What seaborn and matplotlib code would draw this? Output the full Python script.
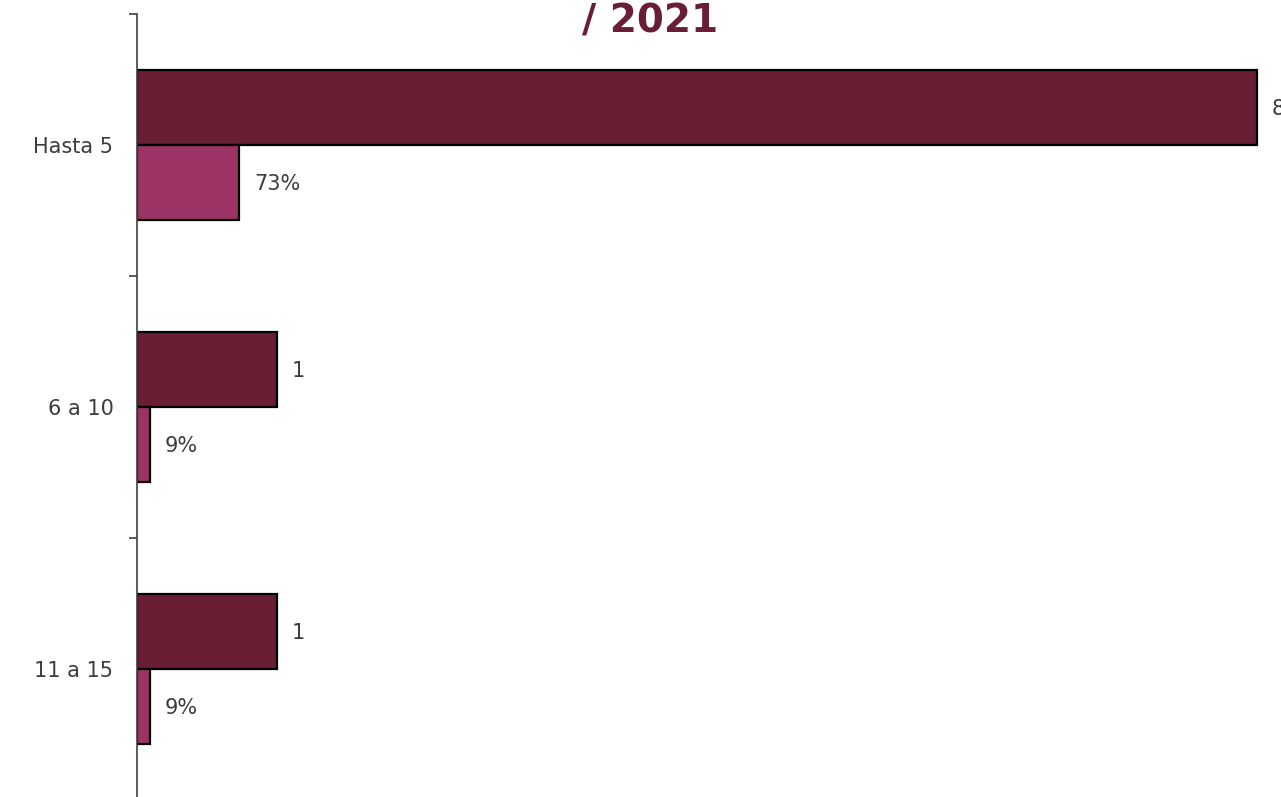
import matplotlib
matplotlib.use("Agg")
import matplotlib.pyplot as plt
from matplotlib.ticker import FixedLocator
import seaborn as sns
import pandas as pd

# Data
rangos = ["Hasta 5", "6 a 10", "11 a 15"]
cantidad = [8, 1, 1]
porcentaje = [0.73, 0.09, 0.09]
etiquetas_cantidad = ["8", "1", "1"]
etiquetas_porcentaje = ["73%", "9%", "9%"]
series = ["Cantidad", "Porcentaje"]
colores = ["#6A1E33", "#9B3465"]
titulo = "/ 2021"

df = pd.DataFrame({
    "rango": rangos * 2,
    "serie": [series[0]] * len(rangos) + [series[1]] * len(rangos),
    "valor": cantidad + porcentaje,
})

sns.set_theme(style="white")
plt.rcParams["font.family"] = ["DejaVu Sans"]

W, H = 1281, 797
fig = plt.figure(figsize=(W / 100, H / 100), dpi=100)
# axes: left spine at x=137 px, category span from y=14 px to y=800 px
ax = fig.add_axes([137 / W, -3 / H, (W - 137) / W, (800 - 14) / H])

sns.barplot(data=df, y="rango", x="valor", hue="serie", order=rangos,
            hue_order=series, palette=colores, orient="h", width=0.573,
            edgecolor="black", linewidth=1.6, dodge=True, ax=ax,
            legend=False, saturation=1)

ax.set_xlim(0, (W - 137) / 140)
ax.set_ylim(2.5, -0.5)

# value labels just right of each bar
px = (ax.get_xlim()[1]) / (W - 137)
off = 15 * px
for cont, labels in zip(ax.containers, [etiquetas_cantidad, etiquetas_porcentaje]):
    for bar, lab in zip(cont, labels):
        ax.text(bar.get_width() + off, bar.get_y() + bar.get_height() / 2 + 0.005, lab,
                va="center", ha="left", fontsize=15, color="#3C3C3C",
                clip_on=False)

# axes styling
for s in ["top", "right", "bottom"]:
    ax.spines[s].set_visible(False)
ax.spines["left"].set_color("#404040")
ax.spines["left"].set_linewidth(1.2)
ax.set_xticks([])
ax.set_xlabel("")
ax.set_ylabel("")
ax.tick_params(axis="y", which="major", length=0, pad=17, labelsize=15,
               labelcolor="#3C3C3C")
ax.yaxis.set_minor_locator(FixedLocator([-0.5, 0.5, 1.5, 2.5]))
ax.tick_params(axis="y", which="minor", length=6, width=1.2, color="#404040",
               direction="out", left=True)

fig.text(650 / W, 1 - 33 / H, titulo, ha="center", va="baseline",
         fontsize=28, fontweight="bold", color="#6A1E33")

fig.savefig("out.png", dpi=100, facecolor="white")
